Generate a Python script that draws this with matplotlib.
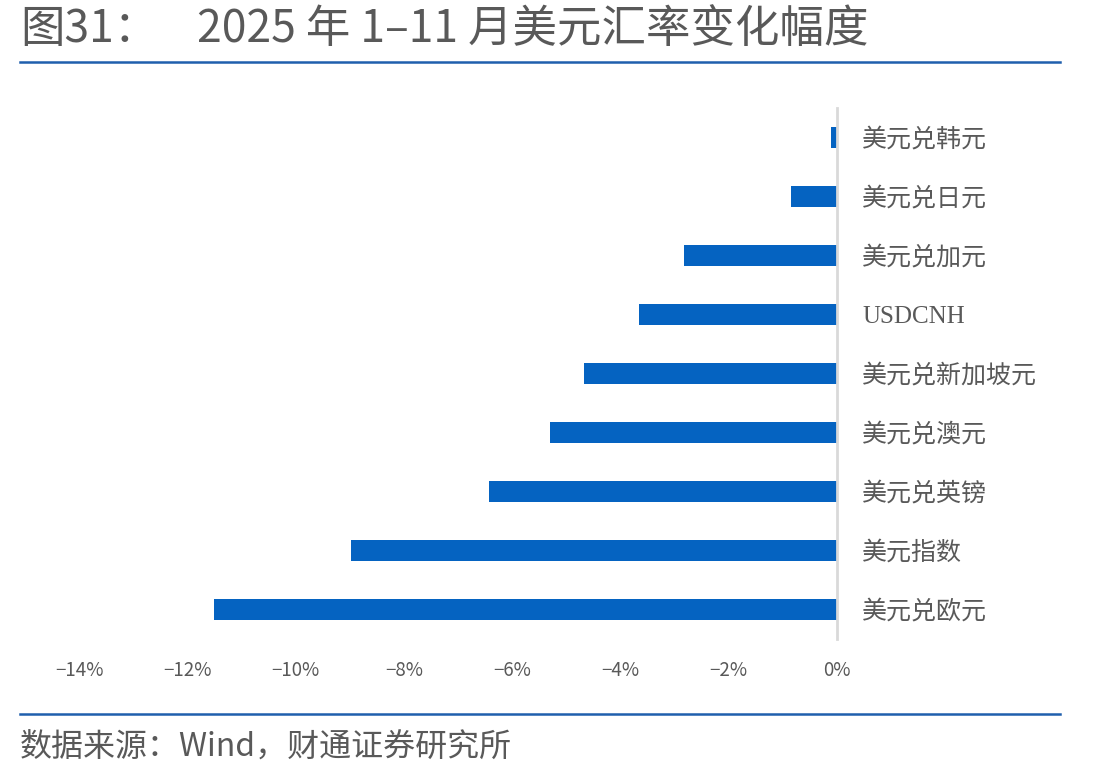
import matplotlib
matplotlib.use("Agg")
import matplotlib.pyplot as plt
from matplotlib.lines import Line2D
import numpy as np

plt.rcParams["font.family"] = ["Noto Sans CJK SC", "DejaVu Sans"]
plt.rcParams["axes.unicode_minus"] = False

# 数据：2025 年 1-11 月美元汇率变化幅度（%），从上到下
LABELS = ["美元兑韩元", "美元兑日元", "美元兑加元", "USDCNH", "美元兑新加坡元",
          "美元兑澳元", "美元兑英镑", "美元指数", "美元兑欧元"]
CHANGES = [-0.11, -0.85, -2.82, -3.66, -4.68, -5.30, -6.42, -8.97, -11.50]
X_TICKS = [-14, -12, -10, -8, -6, -4, -2, 0]

BAR_BLUE = "#0563C1"
LINE_BLUE = "#1F5FAD"
TEXT_GRAY = "#595959"

fig = plt.figure(figsize=(11.08, 7.8), dpi=100)
fig.patch.set_facecolor("white")

ax = fig.add_axes([79 / 1108, 1 - 639 / 780, (837 - 79) / 1108, (639 - 108) / 780])

y = np.arange(len(LABELS))
ax.barh(y, CHANGES, height=0.34, color=BAR_BLUE, zorder=3)
ax.set_ylim(len(LABELS) - 0.5, -0.5)
ax.set_xlim(-14, 0)

ax.set_xticks(X_TICKS)
ax.set_xticklabels([f"\u2212{abs(t)}%" if t < 0 else f"{t}%" for t in X_TICKS],
                   fontsize=13.5, color=TEXT_GRAY)
ax.tick_params(axis="x", length=0, pad=15)

ax.yaxis.tick_right()
ax.set_yticks(y)
ax.set_yticklabels(LABELS, fontsize=18, color=TEXT_GRAY, weight="medium",
                   family=["Liberation Serif", "Noto Sans CJK SC"])
ax.tick_params(axis="y", length=0, pad=18)

for side in ("top", "left", "bottom"):
    ax.spines[side].set_visible(False)
ax.spines["right"].set_color("#D9D9D9")
ax.spines["right"].set_linewidth(2.0)
ax.spines["right"].set_zorder(4)

# 标题与分隔线
fig.text(20 / 1108, 1 - 29 / 780, "图31：", fontsize=32, color=TEXT_GRAY,
         va="center", ha="left", weight="medium")
fig.text(197 / 1108, 1 - 29 / 780, "2025 年 1–11 月美元汇率变化幅度",
         fontsize=32, color=TEXT_GRAY, va="center", ha="left", weight="medium")
fig.add_artist(Line2D([20 / 1108, 1060 / 1108], [1 - 62 / 780, 1 - 62 / 780],
                      color=LINE_BLUE, linewidth=1.8))
fig.add_artist(Line2D([20 / 1108, 1060 / 1108], [1 - 714 / 780, 1 - 714 / 780],
                      color=LINE_BLUE, linewidth=1.8))
fig.text(20 / 1108, 1 - 748 / 780, "数据来源：Wind，财通证券研究所",
         fontsize=23, color=TEXT_GRAY, va="center", ha="left")

fig.savefig("out.png", dpi=100, facecolor="white")
